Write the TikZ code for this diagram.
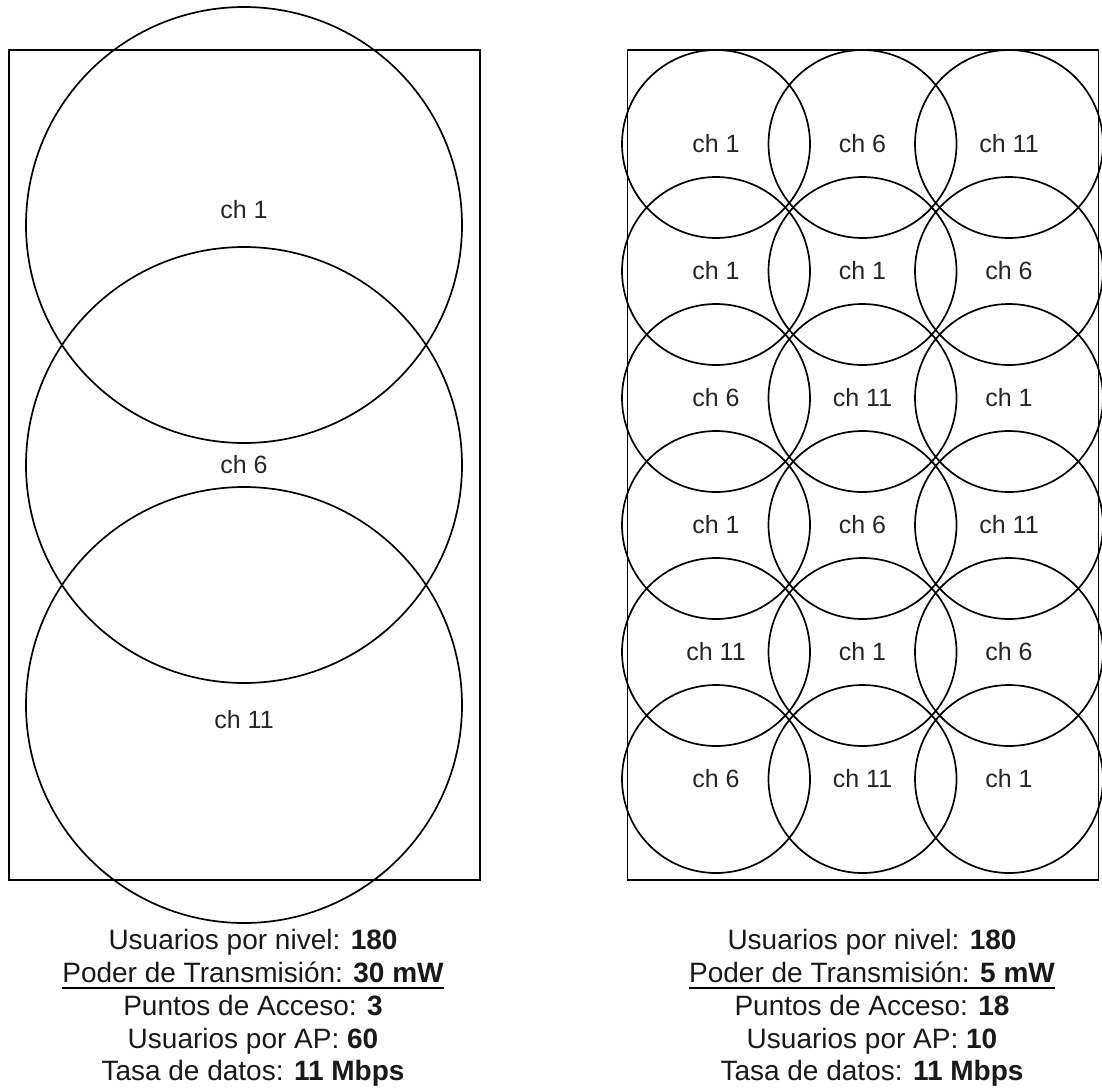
\documentclass[tikz,border=0pt]{standalone}
\usepackage{fontspec}
\setmainfont{Liberation Sans}
\begin{document}
\begin{tikzpicture}[x=1pt, y=-1pt, every node/.style={font=\fontsize{25}{30}\selectfont,text=black!85},
  area/.style={draw,line width=1.7pt,minimum width=471pt,minimum height=830pt,inner sep=0pt},
  bigcell/.style={circle,draw,line width=1.7pt,minimum size=436pt,inner sep=0pt},
  cell/.style={circle,draw,line width=1.7pt,minimum size=188pt,inner sep=0pt},
  info/.style={font=\fontsize{28}{33}\selectfont,text=black!90,anchor=base,inner sep=0pt}]
\useasboundingbox (0,0) rectangle (1102,1090);
% floors
\node[area] (floorA) at (244.5,465) {};
\node[area] (floorB) at (863,465) {};
% left: three cells
\node[bigcell] (a1) at (244,225) {};
\node[bigcell] (a2) at (244,465) {};
\node[bigcell] (a3) at (244,705) {};
\node (ch-a1) at (244,210) {ch 1};
\node (ch-a2) at (244,465) {ch 6};
\node (ch-a3) at (244,720) {ch 11};
% right: eighteen cells
\node[cell] (b11) at (716,144) {ch 1};
\node[cell] (b12) at (862.5,144) {ch 6};
\node[cell] (b13) at (1009,144) {ch 11};
\node[cell] (b21) at (716,271) {ch 1};
\node[cell] (b22) at (862.5,271) {ch 1};
\node[cell] (b23) at (1009,271) {ch 6};
\node[cell] (b31) at (716,398) {ch 6};
\node[cell] (b32) at (862.5,398) {ch 11};
\node[cell] (b33) at (1009,398) {ch 1};
\node[cell] (b41) at (716,525) {ch 1};
\node[cell] (b42) at (862.5,525) {ch 6};
\node[cell] (b43) at (1009,525) {ch 11};
\node[cell] (b51) at (716,652) {ch 11};
\node[cell] (b52) at (862.5,652) {ch 1};
\node[cell] (b53) at (1009,652) {ch 6};
\node[cell] (b61) at (716,779) {ch 6};
\node[cell] (b62) at (862.5,779) {ch 11};
\node[cell] (b63) at (1009,779) {ch 1};
% figures, left
\node[info] (usrA) at (253,949) {Usuarios por nivel: \textbf{180}};
\node[info] (powA) at (253,982) {Poder de Transmisión: \textbf{30 mW}};
\node[info] (apA) at (253,1015) {Puntos de Acceso: \textbf{3}};
\node[info] (perA) at (253,1048) {Usuarios por AP: \textbf{60}};
\node[info] (rateA) at (253,1080) {Tasa de datos: \textbf{11 Mbps}};
\draw[line width=1.6pt] ([yshift=-6pt]powA.base west) -- ([yshift=-6pt]powA.base east);
% figures, right
\node[info] (usrB) at (872,949) {Usuarios por nivel: \textbf{180}};
\node[info] (powB) at (872,982) {Poder de Transmisión: \textbf{5 mW}};
\node[info] (apB) at (872,1015) {Puntos de Acceso: \textbf{18}};
\node[info] (perB) at (872,1048) {Usuarios por AP: \textbf{10}};
\node[info] (rateB) at (872,1080) {Tasa de datos: \textbf{11 Mbps}};
\draw[line width=1.6pt] ([yshift=-6pt]powB.base west) -- ([yshift=-6pt]powB.base east);
\end{tikzpicture}
\end{document}
